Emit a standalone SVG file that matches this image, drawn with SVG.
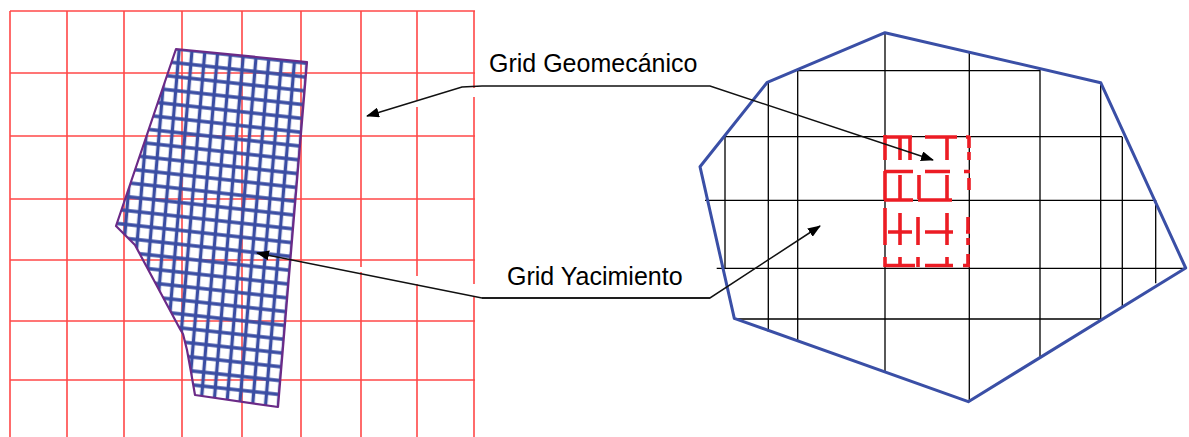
<svg xmlns="http://www.w3.org/2000/svg" width="1189" height="437" viewBox="0 0 1189 437">
  <style>
    .rg{stroke:#ff4848;stroke-width:1.6;fill:none}
    .gap{stroke:#fff;stroke-width:3;fill:none}
    .lead{stroke:#111;stroke-width:1.5;fill:none}
    .lbl{font-family:"Liberation Sans",Arial,sans-serif;font-size:25px;fill:#000}
    .bk{stroke:#000;stroke-width:1.3;fill:none}
    .rd{stroke:#ec1c24;stroke-width:3.6;fill:none}
    .outline{fill:none;stroke:#3a4fa6;stroke-width:3;stroke-linejoin:round}
  </style>
  <defs>
    <!-- skewed fine mesh of the reservoir model -->
    <pattern id="cellMesh" width="12.8" height="13.8" patternUnits="userSpaceOnUse" patternTransform="matrix(1 0.11 -0.084 1 172.2 55.4)">
      <path d="M0 6.9H12.8M6.4 0V13.8" stroke="#3a4da3" stroke-width="3.4"/>
    </pattern>
    <clipPath id="resClip">
      <polygon points="176,49 307,62 278,407 195,395 191,372 187,350 183,334 180,329 135,245 116,226"/>
    </clipPath>
    <marker id="ah" markerWidth="13" markerHeight="10" refX="12" refY="5" orient="auto" markerUnits="userSpaceOnUse">
      <path d="M0,0 L13,5 L0,10z" fill="#000"/>
    </marker>
  </defs>
  <rect width="1189" height="437" fill="#fff"/>

  <!-- coarse geomechanical grid (left) -->
  <g id="geomech-grid">
    <path class="rg" d="M10 11V437M67 11V437M124 11V437M182 11V437M242 11V437M301 11V437M361 11V437M417 11V437M474 11V437"/>
    <path class="rg" d="M10 11H475M10 73H475M10 136H475M10 199H475M10 260H475M10 321H475M10 380H475"/>
    <path class="gap" d="M474 88V97M417 100V107M361 267V272M417 276V284M474 284V296"/>
  </g>

  <!-- fine reservoir grid (left) -->
  <g id="reservoir-grid">
    <rect x="100" y="40" width="220" height="380" fill="url(#cellMesh)" clip-path="url(#resClip)"/>
    <polygon points="176,49 307,62 278,407 195,395 191,372 187,350 183,334 180,329 135,245 116,226" fill="none" stroke="#6b2a87" stroke-width="2.2" stroke-linejoin="round"/>
  </g>

  <!-- reservoir outline with its coarse cells (right) -->
  <g id="reservoir-block">
    <path class="bk" d="M798 70.7H1040M725 136.7H1122M705 200.3H1156M716.7 268.3H1185.7M734 319H1100.7"/>
    <path class="bk" d="M725 136.7V268.3M768.3 82.3V331.7M797.7 70V340M885 32.7V371.7M969.3 53V401.7M1040 70V358M1100.7 82.7V319M1122.3 136.7V306.7M1155.7 200.3V283.3"/>
    <polygon class="outline" points="885,32.7 1100.7,82.7 1185.7,268 968.3,401.7 734.3,318.3 700,166.7 767.3,82.3"/>
  </g>

  <!-- refined geomechanical cells (right) -->
  <g id="geomech-cells">
    <path class="rd" d="M884 137H912M925 137H957M966 137H970M884 171.5H913M925 171.5H950M964 171.5H970M884 200H913M918 200H952M888 232H912M925 232H953M966 232H970M884 265.5H915M925 265.5H953M963 265.5H970"/>
    <path class="rd" d="M885 135V160M885 171V200M885 208V245M885 257V267M900 138V160M900 175V199M900 213V245M900 257V267M910 137V160M919 175V199M918 217V245M918 257V267M947 137V160M947 175V199M947 213V245M947 257V267M969 136V148M969 152V160M969 178V190M968 217V233M968 238V245M968 254V267"/>
  </g>

  <!-- labels -->
  <g id="label-geomech">
    <text class="lbl" x="489" y="72">Grid Geomecánico</text>
  </g>
  <g id="label-reservoir">
    <text class="lbl" x="507" y="285">Grid Yacimiento</text>
  </g>

  <!-- leader lines -->
  <g id="connectors">
    <polyline class="lead" points="708,86 482,86 462,87 367,116" marker-end="url(#ah)"/>
    <polyline class="lead" points="708,86 710,86 933,160" marker-end="url(#ah)"/>
    <polyline class="lead" points="710,298 482,298 257,253" marker-end="url(#ah)"/>
    <polyline class="lead" points="482,298 710,298 820,226" marker-end="url(#ah)"/>
  </g>
</svg>
